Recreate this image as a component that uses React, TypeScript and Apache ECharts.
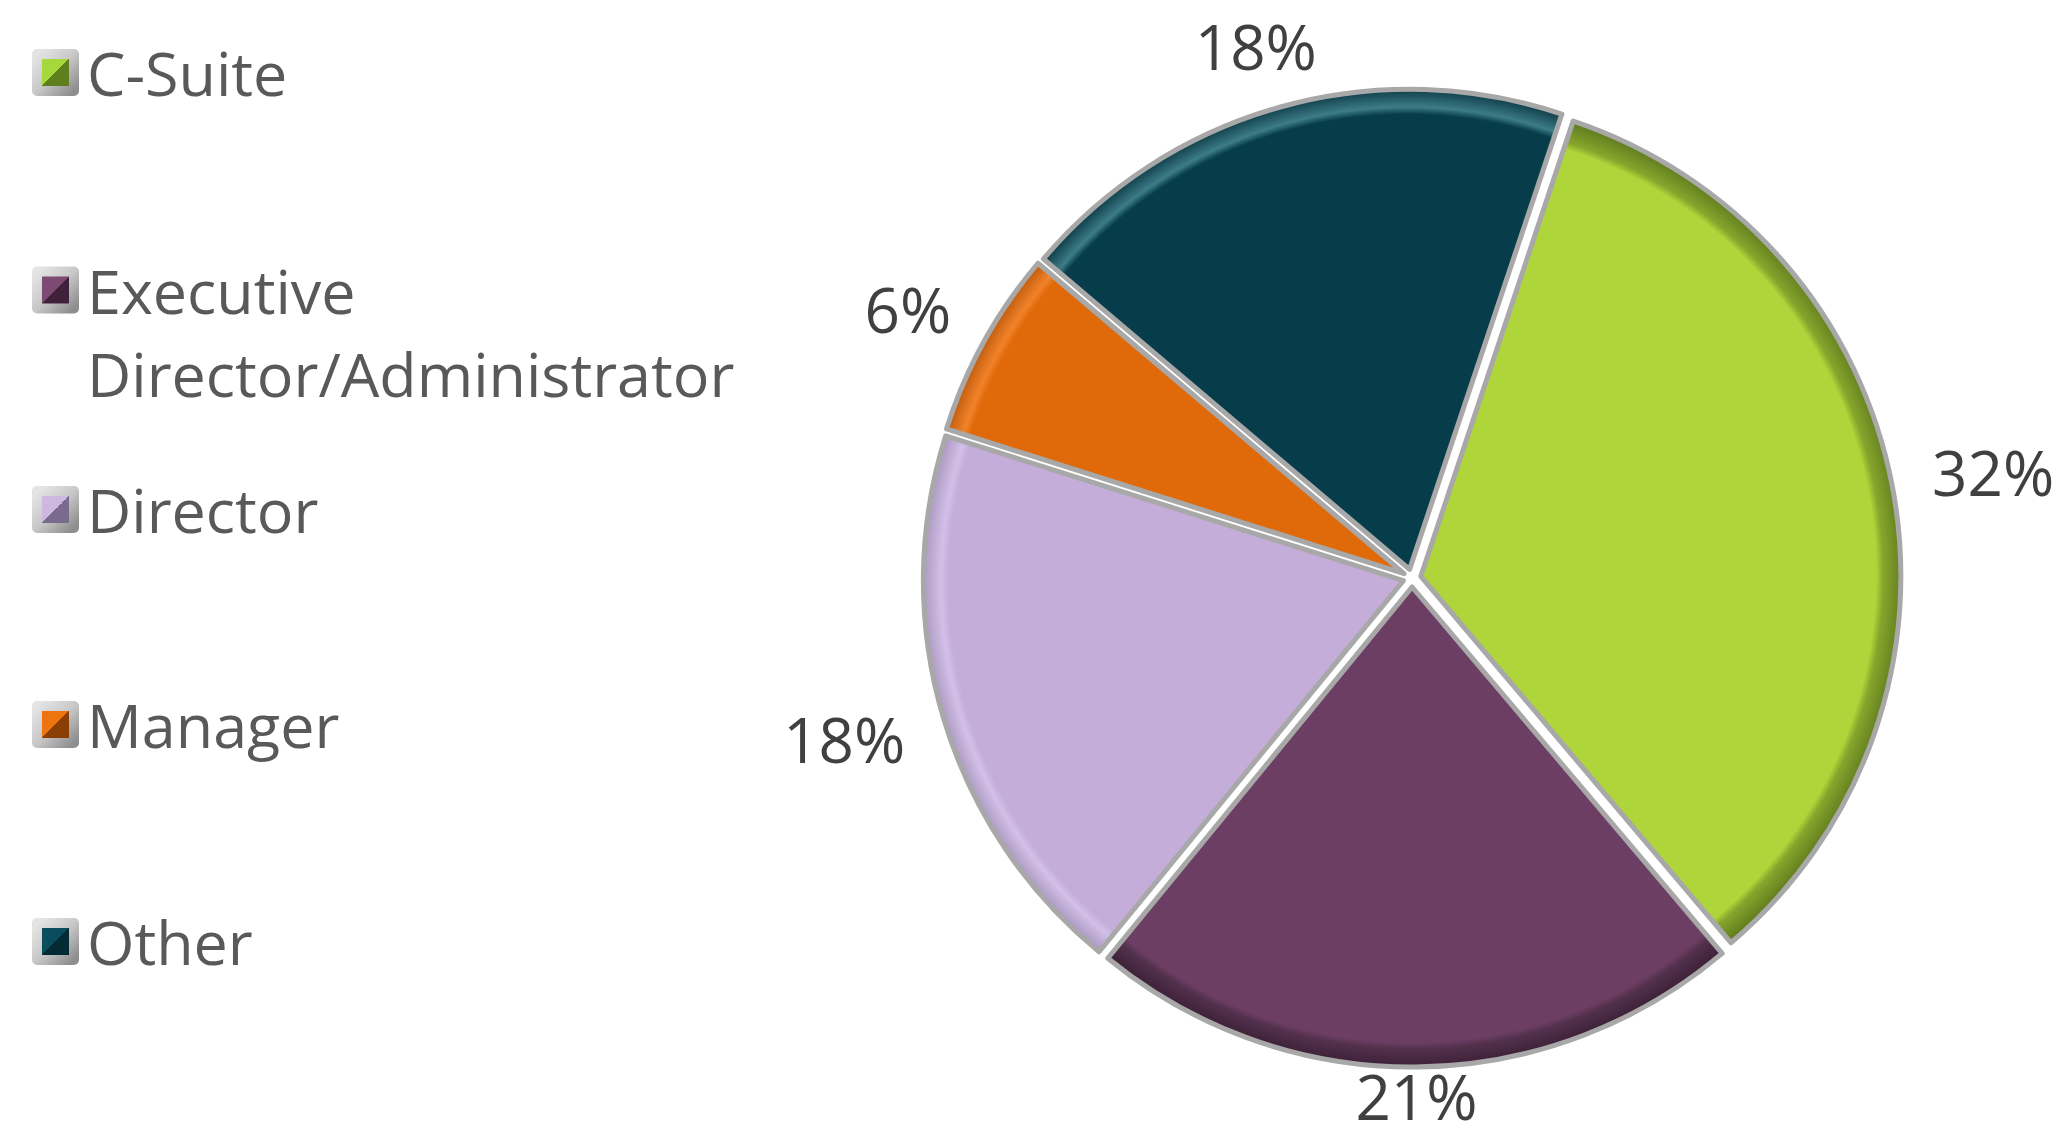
import React, { useEffect, useRef } from "react";
import * as echarts from "echarts";

// ---- data ----
const categories = ["C-Suite", "Executive Director/Administrator", "Director", "Manager", "Other"];
const legendLabels = ["C-Suite", "\nExecutive\nDirector/Administrator", "Director", "Manager", "Other"];
const values = [32, 21, 18, 6, 18];

// ---- styles ----
const baseColors = ["#AED63A", "#6C3E64", "#C4ADD9", "#E06A0A", "#073D4A"];
const rimInner = ["#86A52C", "#52304C", "#D2C0E8", "#F2822A", "#3C7C88"];
const rimOuter = ["#5E7A1E", "#381E33", "#A391B9", "#B25206", "#05303A"];
const iconLight = ["#A6D83C", "#7C4A72", "#CDB8E2", "#EE7410", "#0A4D5C"];
const iconDark = ["#5F7E1E", "#3F2139", "#7A6A8E", "#8A3E04", "#042A33"];

const FONT = "'Open Sans', 'Noto Sans', sans-serif";
const LABEL_SIZE = 62;
const W = 2071;
const H = 1143;
const CX = 1412;
const CY = 578;
const R = 480;
const OFFSET = 9;
const START_DEG = 18.5; // clockwise from 12 o'clock
const LEGEND_CENTERS = [66, 290, 503, 718, 935];

function midDirs() {
  const total = values.reduce((a, b) => a + b, 0);
  let acc = START_DEG;
  return values.map((v) => {
    const span = (v / total) * 360;
    const mid = ((acc + span / 2) * Math.PI) / 180;
    acc += span;
    return { dx: Math.sin(mid), dy: -Math.cos(mid) };
  });
}

function measure(text: string) {
  const c = document.createElement("canvas").getContext("2d");
  if (!c) return text.length * LABEL_SIZE * 0.64;
  c.font = `${LABEL_SIZE}px "Open Sans", sans-serif`;
  const w = c.measureText(text).width;
  return w > 20 ? w : text.length * LABEL_SIZE * 0.64;
}

export default function App() {
  const ref = useRef<HTMLDivElement>(null);

  useEffect(() => {
    document.body.style.margin = "0";
    if (!ref.current) return;
    const chart = echarts.init(ref.current, undefined, { renderer: "svg" });
    const dirs = midDirs();

    const data = categories.map((name, i) => {
      const sx = CX + OFFSET * dirs[i].dx;
      const sy = CY + OFFSET * dirs[i].dy;
      return {
        name,
        value: values[i],
        selected: true,
        itemStyle: {
          color: new echarts.graphic.RadialGradient(
            sx,
            sy,
            R,
            [
              { offset: 0, color: baseColors[i] },
              { offset: 0.93, color: baseColors[i] },
              { offset: 0.945, color: rimInner[i] },
              { offset: 0.99, color: rimOuter[i] },
              { offset: 1, color: rimOuter[i] },
            ],
            true
          ),
        },
      };
    });

    // percentage labels: box placed just outside the pie along each mid-angle
    const labels = values.map((v, i) => {
      const d = dirs[i];
      const text = `${v}%`;
      const w = measure(text);
      const h = 56;
      const radial = 527 + Math.abs(d.dx) * (w / 2) + Math.abs(d.dy) * (h / 2);
      const distX = (radial + 530 + w / 2) / 2;
      const distY = (radial + 535) / 2;
      let x = CX + d.dx * distX;
      let y = CY + d.dy * distY;
      y = Math.min(Math.max(y, 38), H - 47);
      x = Math.min(Math.max(x, w / 2), W - w / 2);
      return {
        type: "text",
        x,
        y,
        silent: true,
        style: {
          text,
          fontFamily: FONT,
          fontSize: LABEL_SIZE,
          fill: "#404040",
          align: "center",
          verticalAlign: "middle",
        },
      };
    });

    const legends = categories.map((name, i) => {
      const lh = i === 1 ? 83 : 48;
      const blockH = i === 1 ? 83 * 3 : 48;
      return {
        orient: "vertical",
        left: 32,
        top: LEGEND_CENTERS[i] - blockH / 2,
        padding: 0,
        itemWidth: 37,
        itemHeight: 37,
        selectedMode: false,
        formatter: () => legendLabels[i],
        data: [
          {
            name,
            icon: "rect",
            itemStyle: {
              color: new echarts.graphic.LinearGradient(0, 0, 1, 1, [
                { offset: 0, color: iconLight[i] },
                { offset: 0.5, color: iconLight[i] },
                { offset: 0.5, color: iconDark[i] },
                { offset: 1, color: iconDark[i] },
              ]),
              borderColor: new echarts.graphic.LinearGradient(0, 0, 1, 1, [
                { offset: 0, color: "#E4E4E4" },
                { offset: 0.5, color: "#C8C8C8" },
                { offset: 1, color: "#8E8E8E" },
              ]),
              borderWidth: 10,
            },
          },
        ],
        textStyle: {
          fontFamily: FONT,
          fontSize: 61,
          color: "#595959",
          lineHeight: lh,
          padding: [0, 0, 0, 8],
        },
      };
    });

    chart.setOption({
      animation: false,
      backgroundColor: "#ffffff",
      legend: legends,
      graphic: labels,
      series: [
        {
          type: "pie",
          center: [CX, CY],
          radius: R,
          startAngle: 90 - START_DEG,
          clockwise: true,
          selectedMode: "multiple",
          selectedOffset: OFFSET,
          avoidLabelOverlap: false,
          emphasis: { disabled: true, scale: false },
          itemStyle: {
            borderColor: "#A8A8A8",
            borderWidth: 5,
          },
          label: { show: false },
          labelLine: { show: false },
          data,
        },
      ],
    });

    return () => chart.dispose();
  }, []);

  return <div ref={ref} style={{ width: W, height: H }} />;
}
